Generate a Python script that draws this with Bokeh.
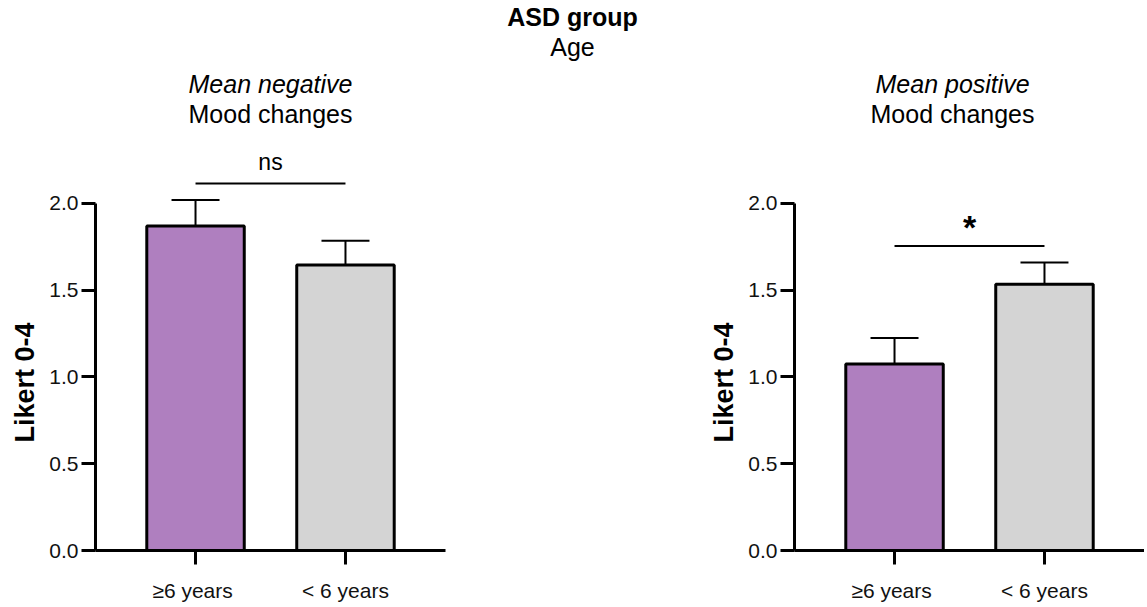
import numpy as np
from bokeh.plotting import figure
from bokeh.layouts import column, row
from bokeh.models import Range1d, FixedTicker, NumeralTickFormatter, Title, ColumnDataSource
from bokeh.core.properties import value
from bokeh.embed import file_html
from bokeh.resources import INLINE

# ---------------- data ----------------
groups = ["≥6  years", "< 6 years"]
neg_mean = [1.87, 1.645]
neg_sem = [0.15, 0.14]
pos_mean = [1.075, 1.535]
pos_sem = [0.15, 0.125]
neg_sig = "ns"
pos_sig = "*"
y_ticks = [0.0, 0.5, 1.0, 1.5, 2.0]
bar_colors = ["#AF7FBF", "#D4D4D4"]

main_title = "ASD group"
main_subtitle = "Age"
neg_title = ["Mean negative", "Mood changes"]
pos_title = ["Mean positive", "Mood changes"]
y_label = "Likert 0-4"

# ---------------- style ----------------
FONT = "Liberation Sans"
TITLE_SIZE = "25px"
HEADER_SIZE = "25px"
HEADER_H = 66
PANEL_H = 538
Y_MAX = 2.432
X_LO = 1 - 0.667
X_HI = 2 + 0.667


def style_axes(p):
    p.grid.visible = False
    for ax in p.axis:
        ax.axis_line_width = 3
        ax.axis_line_color = "black"
        ax.major_tick_line_width = 3
        ax.major_tick_line_color = "black"
        ax.major_tick_out = 14
        ax.major_tick_in = 0
        ax.minor_tick_line_color = None
        ax.major_label_text_font = FONT
        ax.major_label_text_font_size = "21px"
        ax.major_label_text_color = "#111111"
    p.yaxis.ticker = FixedTicker(ticks=y_ticks)
    p.yaxis.formatter = NumeralTickFormatter(format="0.0")
    p.yaxis.bounds = (y_ticks[0], y_ticks[-1])
    p.yaxis.major_label_standoff = 3
    xs = list(range(1, len(groups) + 1))
    p.xaxis.ticker = FixedTicker(ticks=xs)
    p.xaxis.major_label_overrides = {x: g for x, g in zip(xs, groups)}
    p.xaxis.major_label_standoff = 14
    # y-axis title, centred on the 0-2 axis segment rather than the whole frame
    p.add_layout(Title(text=y_label, align="left", offset=108, text_font=FONT,
                       text_color="black", text_font_size="27px",
                       text_font_style="bold", standoff=14), "left")


def make_panel(means, sems, sig, titles, width, left_border, right_border,
               title_align="center", title_offsets=(0, 0)):
    p = figure(width=width, height=PANEL_H,
               x_range=Range1d(X_LO, X_HI), y_range=Range1d(0, Y_MAX),
               toolbar_location=None, output_backend="svg",
               min_border_left=left_border, min_border_right=right_border,
               min_border_top=62, min_border_bottom=54,
               outline_line_color=None)
    x = np.arange(1, len(groups) + 1)
    m = np.array(means)
    s = np.array(sems)
    err = m + s
    cap = 0.16
    src = ColumnDataSource(dict(x=x, top=m, err=err, color=bar_colors,
                                cx0=x - cap, cx1=x + cap))
    p.vbar(x="x", top="top", bottom=0, width=0.65, fill_color="color",
           line_color="black", line_width=3, source=src)
    p.segment(x0="x", y0="top", x1="x", y1="err", line_color="black",
              line_width=2, source=src)
    p.segment(x0="cx0", y0="err", x1="cx1", y1="err", line_color="black",
              line_width=2, source=src)
    sig_y = err.max() + 0.095
    p.line(x=[x[0], x[-1]], y=[sig_y, sig_y], line_color="black", line_width=2)
    is_star = sig.strip("*") == ""
    p.text(x=[x.mean()], y=[sig_y + (0.11 if is_star else 0.125)], text=[sig],
           text_align="center", text_baseline="alphabetic", text_font=value(FONT),
           text_font_size="34px" if is_star else "23px",
           text_font_style="bold" if is_star else "normal",
           text_color="black")
    style_axes(p)
    p.add_layout(Title(text=titles[1], align=title_align, offset=title_offsets[1],
                       text_font=FONT, text_color="black",
                       text_font_size=TITLE_SIZE, text_font_style="normal",
                       standoff=1), "above")
    p.add_layout(Title(text=titles[0], align=title_align, offset=title_offsets[0],
                       text_font=FONT, text_color="black",
                       text_font_size=TITLE_SIZE, text_font_style="italic",
                       standoff=0), "above")
    return p


p1 = make_panel(neg_mean, neg_sem, neg_sig, neg_title, 699, 95, 254)
p2 = make_panel(pos_mean, pos_sem, pos_sig, pos_title, 445, 95, 0,
                title_align="left", title_offsets=(81, 76))

header = figure(width=1144, height=HEADER_H, x_range=Range1d(0, 1), y_range=Range1d(0, 1),
                toolbar_location=None, output_backend="svg", min_border=0,
                outline_line_color=None, x_axis_location=None, y_axis_location=None)
header.grid.visible = False
header.add_layout(Title(text=main_subtitle, align="center", text_font=FONT,
                        text_color="black", text_font_size=HEADER_SIZE,
                        text_font_style="normal", standoff=0), "above")
header.add_layout(Title(text=main_title, align="center", text_font=FONT,
                        text_color="black", text_font_size=HEADER_SIZE,
                        text_font_style="bold", standoff=0), "above")

layout = column(header, row(p1, p2))
open("out.html", "w").write(file_html(layout, INLINE))
